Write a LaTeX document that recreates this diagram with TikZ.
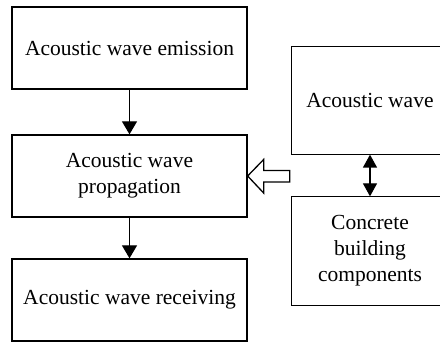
\documentclass[tikz,border=0pt]{standalone}
\usepackage{fontspec}
\setmainfont{Liberation Serif}
\usetikzlibrary{arrows.meta,calc}
\begin{document}
\begin{tikzpicture}[x=1pt,y=-1pt,
  box/.style={draw,line width=1.3pt,inner sep=0pt,align=center,
    font=\fontsize{21.5}{26}\selectfont},
  openbox/.style={box,draw=none},
  conn/.style={line width=1.3pt,-{Triangle[length=13pt,width=15pt]}},
  dconn/.style={line width=1.3pt,{Triangle[length=13pt,width=14pt]}-{Triangle[length=13pt,width=14pt]}}]
\useasboundingbox (0,0) rectangle (440,342);
\clip (0,0) rectangle (440,342);
\node[box,minimum width=235pt,minimum height=82pt] (b1) at (129.5,48) {Acoustic wave emission};
\node[box,minimum width=235pt,minimum height=82pt] (b2) at (129.5,176) {Acoustic wave\\propagation};
\node[box,minimum width=235pt,minimum height=82pt] (b3) at (129.5,300) {Acoustic wave receiving};
\node[openbox,minimum width=156pt,minimum height=107pt] (r1) at (370,100.5) {Acoustic wave};
\node[openbox,minimum width=156pt,minimum height=108pt] (r2) at (370,251) {Concrete\\building\\components};
\draw[line width=1.3pt] (r1.north west) rectangle ($(r1.south east)+(30,0)$);
\draw[line width=1.3pt] (r2.north west) rectangle ($(r2.south east)+(30,0)$);
\draw[conn] (b1) -- (b2);
\draw[conn] (b2) -- (b3);
\draw[dconn] (r1.south) -- (r2.north);
\draw[line width=1.3pt,line join=miter] (b2.east) -- ++(16,-16.5) -- ++(0,11) -- ++(26,0) -- ++(0,11.5) -- ++(-26,0) -- ++(0,11) -- cycle;
\end{tikzpicture}
\end{document}
